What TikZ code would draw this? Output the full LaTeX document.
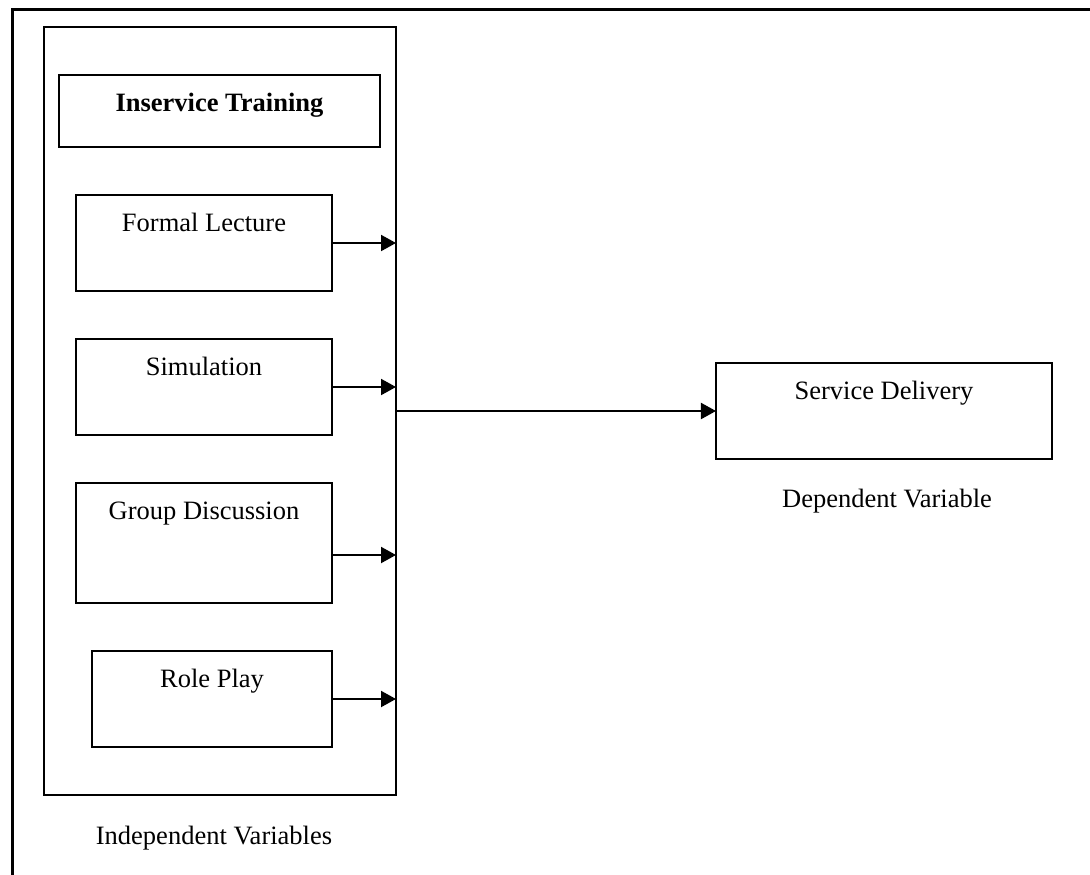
\documentclass[tikz,border=0pt]{standalone}
\usepackage{fontspec}
\setmainfont{Liberation Serif}
\usetikzlibrary{arrows.meta,calc}
\begin{document}
\begin{tikzpicture}[x=0.5bp,y=-0.5bp,
  box/.style={draw,line width=1bp,inner sep=0pt,outer sep=0pt,rectangle},
  txt/.style={inner sep=0pt,anchor=base,font=\fontsize{13.25bp}{16bp}\selectfont},
  arr/.style={line width=1bp,-{Triangle[length=7.5bp,width=8bp]}}]
\useasboundingbox (0,0) rectangle (1090,875);
% outer frame (top and left edges only)
\draw[line width=1.5bp] (12,875) -- (12,9) -- (1090,9);
% container
\node[box,minimum width=176bp,minimum height=384bp] (cont) at (220,411) {};
\node[box,minimum width=160.5bp,minimum height=36bp] (ist) at (219.5,111) {};
\node[box,minimum width=128bp,minimum height=48bp] (fl) at (204,243) {};
\node[box,minimum width=128bp,minimum height=48bp] (sim) at (204,387) {};
\node[box,minimum width=128bp,minimum height=60bp] (gd) at (204,543) {};
\node[box,minimum width=120bp,minimum height=48bp] (rp) at (212,699) {};
\node[box,minimum width=168bp,minimum height=48bp] (sd) at (884,411) {};
% texts
\node[txt,font=\fontsize{13.25bp}{16bp}\selectfont\bfseries] (istt) at ($(ist.north)+(0,36)$) {Inservice Training};
\node[txt] (flt) at ($(fl.north)+(0,36)$) {Formal Lecture};
\node[txt] (simt) at ($(sim.north)+(0,36)$) {Simulation};
\node[txt] (gdt) at ($(gd.north)+(0,36)$) {Group Discussion};
\node[txt] (rpt) at ($(rp.north)+(0,36)$) {Role Play};
\node[txt] (sdt) at ($(sd.north)+(0,36)$) {Service Delivery};
\node[txt] (iv) at (214,844) {Independent Variables};
\node[txt] (dv) at (887,507) {Dependent Variable};
% arrows
\draw[arr] (fl.east) -- (fl.east -| cont.east);
\draw[arr] (sim.east) -- (sim.east -| cont.east);
\draw[arr] ($(gd.east)+(0,12)$) -- ($(gd.east -| cont.east)+(0,12)$);
\draw[arr] (rp.east) -- (rp.east -| cont.east);
\draw[arr] (cont.east) -- (sd.west);
\end{tikzpicture}
\end{document}
